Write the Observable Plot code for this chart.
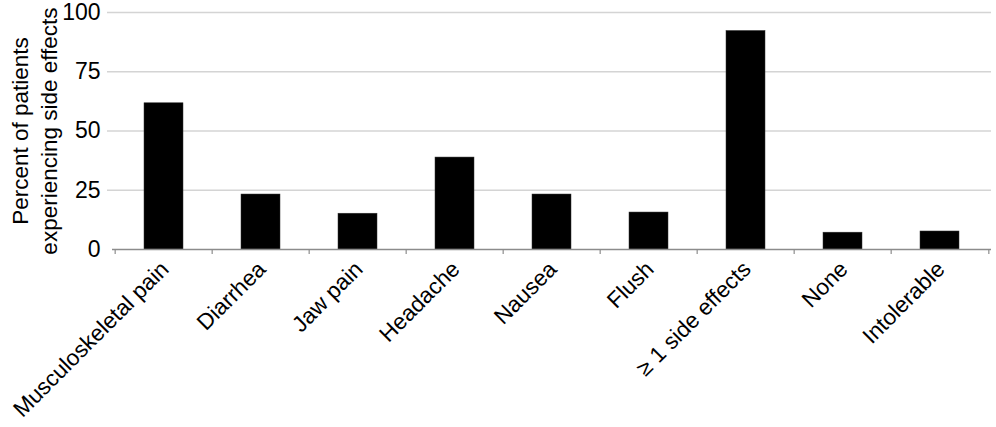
<!DOCTYPE html>
<html>
<head>
<meta charset="utf-8">
<script src="https://cdn.jsdelivr.net/npm/d3@7"></script>
<script src="https://cdn.jsdelivr.net/npm/@observablehq/plot@0.6"></script>
<style>
  html, body { margin: 0; padding: 0; background: #fff; }
  #chart svg { display: block; }
</style>
</head>
<body>
<div id="chart"></div>
<script>
const categories = ["Musculoskeletal pain", "Diarrhea", "Jaw pain", "Headache", "Nausea", "Flush", "≥ 1 side effects", "None", "Intolerable"];
const percents = [61.7, 23.2, 15.1, 38.8, 23.2, 15.6, 92.2, 7.1, 7.6];
const yTicks = [0, 25, 50, 75, 100];
const gridTicks = [25, 50, 75, 100];
const yTitle = "Percent of patients\nexperiencing side effects";

const data = categories.map((c, i) => ({category: c, value: percents[i]}));

const W = 996, H = 427;
const mL = 112, mR = 5, mT = 12, mB = 178;
const step = (W - mL - mR) / categories.length;
const font = "'Liberation Sans', Arial, Helvetica, sans-serif";

const chart = Plot.plot({
  width: W,
  height: H,
  marginLeft: mL,
  marginRight: mR,
  marginTop: mT,
  marginBottom: mB,
  style: {fontFamily: font, background: "#fff", color: "#000", overflow: "visible"},
  x: {domain: categories, paddingInner: 0.6, paddingOuter: 0.3, label: null},
  y: {domain: [0, 100], label: null},
  marks: [
    Plot.gridY(gridTicks, {stroke: "#d4d4d4", strokeOpacity: 1, strokeWidth: 1.5, insetLeft: -5}),
    Plot.barY(data, {x: "category", y: "value", fill: "#000", stroke: "#333", strokeWidth: 0.5}),
    Plot.ruleY([0], {stroke: "#8c8c8c", strokeWidth: 1.5}),
    Plot.ruleX(categories, {x: d => d, y1: 0, y2: -2.1, dx: -step / 2, stroke: "#8c8c8c", strokeWidth: 1.2}),
    Plot.ruleX(categories.slice(-1), {x: d => d, y1: 0, y2: -2.1, dx: step / 2, stroke: "#8c8c8c", strokeWidth: 1.2}),
    Plot.axisY(yTicks, {tickSize: 0, tickPadding: 12, fontSize: 23, fill: "#000", label: null}),
    Plot.axisX({tickSize: 0, tickRotate: -45, tickPadding: 16, fontSize: 22.5, fill: "#000", label: null, dx: 1}),
    Plot.text([yTitle], {frameAnchor: "left", rotate: -90, dx: -79, fontSize: 22.5, lineHeight: 1.28, fill: "#000", textAnchor: "middle"})
  ]
});

document.getElementById("chart").appendChild(chart);
</script>
</body>
</html>
